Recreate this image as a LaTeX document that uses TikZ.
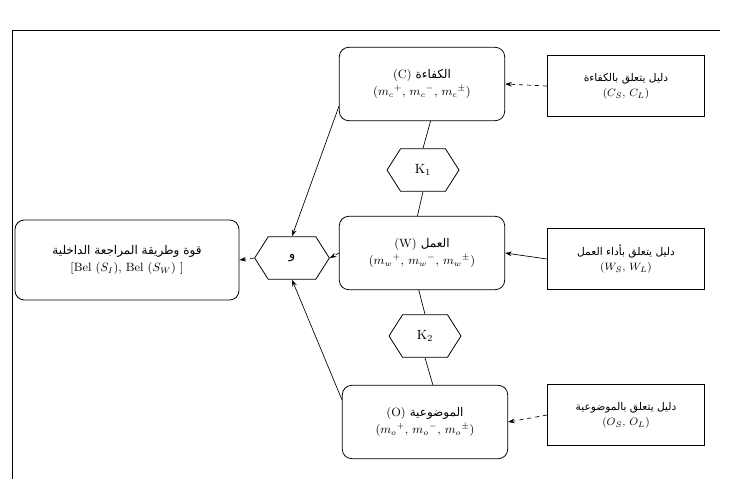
\documentclass[tikz,border=0pt]{standalone}
\usepackage{fontspec}
\usepackage{tikz}
\usetikzlibrary{positioning}
\usetikzlibrary{arrows.meta}
\usetikzlibrary{shapes.symbols}
\newfontfamily\arabicfont[Script=Arabic]{DejaVu Sans}
\TeXXeTstate=1
\newcommand{\ar}[1]{{\arabicfont\beginR #1\endR}}

\begin{document}
\begin{tikzpicture}[x=0.75pt,y=0.75pt,yscale=-1,xscale=1,
  mainbox/.style={draw, rounded corners=7pt, minimum width=124pt, minimum height=55pt, align=center, font=\small, line width=0.6pt},
  evbox/.style={draw, minimum width=118pt, minimum height=46pt, align=center, font=\footnotesize, line width=0.6pt},
  hexbox/.style={draw, shape=signal, signal to=east and west, signal pointer angle=115, minimum width=54pt, minimum height=32pt, inner sep=1pt, line width=0.6pt},
  link/.style={draw, line width=0.5pt, -{Stealth[length=5pt,width=3.5pt]}},
  dlink/.style={link, dashed},
  tie/.style={draw, line width=0.5pt}]
\useasboundingbox (0,0) rectangle (730,479);

% frame
\draw [line width=0.6pt]  (12,479) -- (12,30) -- (720,30) ;

% Text Node
\node [mainbox] (comp) at (422,84) {(C)~\ar{الكفاءة}\\[2pt] $(m_c{}^{+},\, m_c{}^{-},\, m_c{}^{\pm})$};
% Text Node
\node [mainbox] (work) at (422,253) {(W)~\ar{العمل}\\[2pt] $(m_w{}^{+},\, m_w{}^{-},\, m_w{}^{\pm})$};
% Text Node
\node [mainbox] (obj) at (425,422) {(O)~\ar{الموضوعية}\\[2pt] $(m_o{}^{+},\, m_o{}^{-},\, m_o{}^{\pm})$};

% Text Node
\node [evbox] (evcomp) at (626,86) {\ar{دليل يتعلق بالكفاءة}\\[2pt] $(C_S,\, C_L)$};
% Text Node
\node [evbox] (evwork) at (626,259) {\ar{دليل يتعلق بأداء العمل}\\[2pt] $(W_S,\, W_L)$};
% Text Node
\node [evbox] (evobj) at (626,415) {\ar{دليل يتعلق بالموضوعية}\\[2pt] $(O_S,\, O_L)$};

% Text Node
\node [hexbox] (kone) at (423,170) {K$_1$};
% Text Node
\node [hexbox] (ktwo) at (425,336) {K$_2$};
% Text Node
\node [hexbox, minimum width=56pt] (andnode) at (292,258) {\ar{و}};

% Text Node
\node [mainbox, minimum width=168pt, minimum height=60pt] (result) at (127,260) {\ar{قوة وطريقة المراجعة الداخلية}\\[2pt] [Bel ($S_I$), Bel ($S_W$) ]};

% Connection
\draw [dlink]  (evcomp.west) -- (comp.east) ;
% Connection
\draw [link]  (evwork.west) -- (work.east) ;
% Connection
\draw [dlink]  (evobj.west) -- (obj.east) ;

% Connection
\draw [link]  (comp.195) -- (andnode.north) ;
% Connection
\draw [link]  (obj.165) -- (andnode.south) ;
% Connection
\draw [dlink]  (work.west) -- (andnode.east) ;
% Connection
\draw [dlink]  (andnode.west) -- (result.east) ;

% Connection
\draw [tie]  (comp.283) -- (kone.north) ;
% Connection
\draw [tie]  (kone.south) -- (work.97) ;
% Connection
\draw [tie]  (work.265) -- (ktwo.north) ;
% Connection
\draw [tie]  (ktwo.south) -- (obj.78) ;

\end{tikzpicture}
\end{document}
